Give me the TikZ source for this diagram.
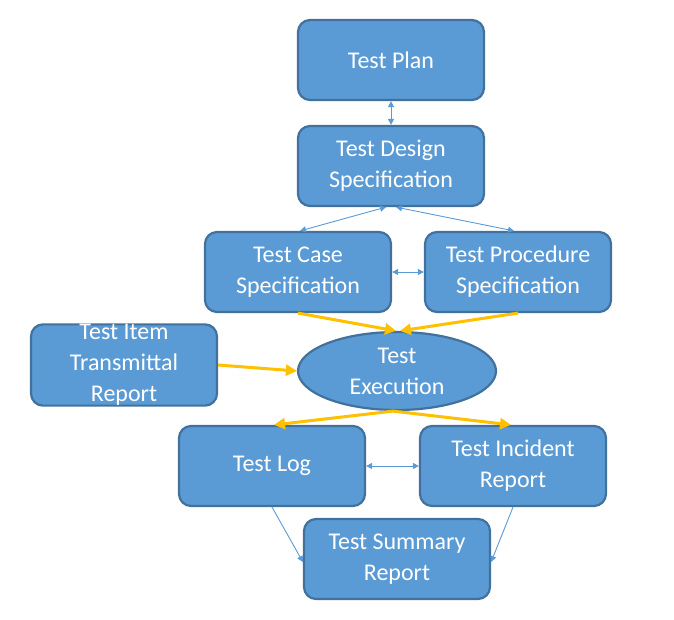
\documentclass[tikz,border=0pt]{standalone}
\usepackage{fontspec}
\setmainfont{Carlito}
\usetikzlibrary{arrows.meta,shapes.geometric}
\definecolor{boxfill}{HTML}{5B9BD5}
\definecolor{boxline}{HTML}{41719C}
\definecolor{flowgold}{HTML}{FFC000}

\begin{document}
\begin{tikzpicture}[x=1pt,y=-1pt,
    docbox/.style={draw=boxline,fill=boxfill,line width=2.2pt,rounded corners=12pt,
        minimum width=186pt,minimum height=80pt,inner sep=0pt,align=center,
        text=white,font=\fontsize{24}{31}\selectfont},
    execnode/.style={docbox,ellipse,rounded corners=0pt,minimum width=198pt,minimum height=78pt},
    link/.style={draw=boxfill,line width=0.9pt,{Triangle[length=6pt,width=6pt]}-{Triangle[length=6pt,width=6pt]}},
    feed/.style={draw=boxfill,line width=0.9pt,-{Triangle[length=6pt,width=6pt]}},
    flow/.style={draw=flowgold,line width=3pt,-{Triangle[length=11pt,width=11pt]}}]
    \useasboundingbox (0,0) rectangle (674,620);
    % documents
    \node[docbox] (plan) at (391,60) {Test Plan};
    \node[docbox] (design) at (391,166) {Test Design\\Specification};
    \node[docbox] (case) at (298,272) {Test Case\\Specification};
    \node[docbox] (proc) at (518,272) {Test Procedure\\Specification};
    \node[docbox] (item) at (124,365) {Test Item\\Transmittal\\Report};
    \node[execnode] (exec) at (397,371) {Test\\Execution};
    \node[docbox] (log) at (272,466) {Test Log};
    \node[docbox] (incident) at (513,466) {Test Incident\\Report};
    \node[docbox] (summary) at (397,559) {Test Summary\\Report};
    % thin links
    \draw[link] (plan) -- (design);
    \draw[link] ([xshift=-5pt]design.south) -- ([xshift=2pt]case.north);
    \draw[link] ([xshift=5pt]design.south) -- ([xshift=-4pt]proc.north);
    \draw[link] (case) -- (proc);
    \draw[link] (log) -- (incident);
    \draw[feed] (log.south) -- ([yshift=-3pt]summary.west);
    \draw[feed] (incident.south) -- ([yshift=-3pt]summary.east);
    % execution flow
    \draw[flow] (case.south) -- ([xshift=-1pt]exec.north);
    \draw[flow] (proc.south) -- ([xshift=3pt]exec.north);
    \draw[flow] (item.east) -- (exec.west);
    \draw[flow] ([xshift=-4pt]exec.south) -- ([xshift=2pt]log.north);
    \draw[flow] ([xshift=-4pt]exec.south) -- ([xshift=-2pt]incident.north);
\end{tikzpicture}
\end{document}
